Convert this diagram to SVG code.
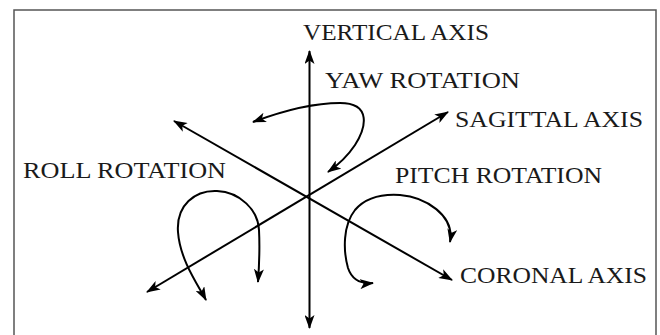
<svg xmlns="http://www.w3.org/2000/svg" width="660" height="335" viewBox="0 0 660 335">
<style>
.lbl{font-family:"Liberation Serif","Times New Roman",serif;font-size:23px;fill:#1a1a1a}
.ax{fill:none;stroke:#000;stroke-width:2}
.rot{fill:none;stroke:#000;stroke-width:2}
</style>
<defs>
<marker id="ah" viewBox="0 0 14 10" refX="13" refY="5" markerWidth="14" markerHeight="10" markerUnits="userSpaceOnUse" orient="auto-start-reverse">
<path d="M0,0 L14,5 L0,10 L3.5,5 z" fill="#000"/>
</marker>
</defs>
<rect width="660" height="335" fill="#fff"/>
<rect x="14" y="10" width="642" height="340" fill="none" stroke="#555" stroke-width="1.5"/>
<g id="connectors">
<line class="ax" x1="309.5" y1="51" x2="309.5" y2="328" marker-start="url(#ah)" marker-end="url(#ah)"/>
<line class="ax" x1="174" y1="121" x2="452" y2="280" marker-start="url(#ah)" marker-end="url(#ah)"/>
<line class="ax" x1="147" y1="292" x2="448" y2="112" marker-start="url(#ah)" marker-end="url(#ah)"/>
<path id="yaw" class="rot" d="M253,122 C285,110 315,103 340,103 C372,103 366,128 355,145 C347,157 338,165 328,172" marker-start="url(#ah)" marker-end="url(#ah)"/>
<path id="roll" class="rot" d="M206,300 C198,285 180,260 178,232 C176,205 195,190 217,191 C240,192 258,210 259,230 C260,250 259,268 258,282" marker-start="url(#ah)" marker-end="url(#ah)"/>
<path id="pitch" class="rot" d="M373,283 C362,284 352,280 348,268 C343,250 343,225 355,210 C367,196 385,194 400,195 C425,197 455,215 450,242" marker-start="url(#ah)" marker-end="url(#ah)"/>
</g>
<g id="vertical-axis"><text class="lbl" x="303" y="40" textLength="186" lengthAdjust="spacingAndGlyphs">VERTICAL AXIS</text></g>
<g id="yaw-rotation"><text class="lbl" x="325" y="88" textLength="195" lengthAdjust="spacingAndGlyphs">YAW ROTATION</text></g>
<g id="sagittal-axis"><text class="lbl" x="455" y="127" textLength="188" lengthAdjust="spacingAndGlyphs">SAGITTAL AXIS</text></g>
<g id="roll-rotation"><text class="lbl" x="23" y="178" textLength="203" lengthAdjust="spacingAndGlyphs">ROLL ROTATION</text></g>
<g id="pitch-rotation"><text class="lbl" x="395" y="183" textLength="207" lengthAdjust="spacingAndGlyphs">PITCH ROTATION</text></g>
<g id="coronal-axis"><text class="lbl" x="460" y="283" textLength="187" lengthAdjust="spacingAndGlyphs">CORONAL AXIS</text></g>
</svg>
